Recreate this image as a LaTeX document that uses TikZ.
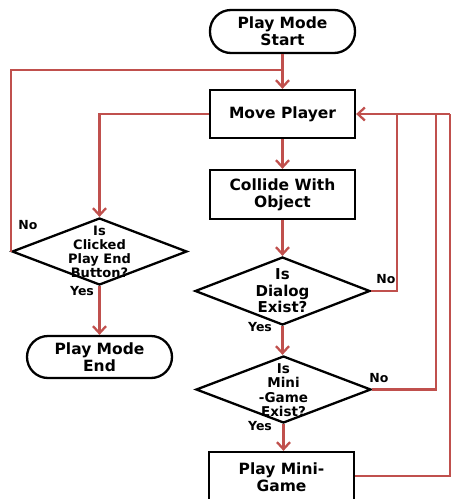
\documentclass[tikz,border=0pt]{standalone}
\usepackage{fontspec}
\setmainfont{DejaVu Sans}
\usetikzlibrary{arrows.meta,shapes.geometric}
\definecolor{flowred}{RGB}{192,80,77}
\tikzset{
  x=1pt,y=1pt,
  procbox/.style={draw=black,line width=2.3pt,fill=white,rectangle,minimum width=145pt,inner sep=0pt,align=center,font=\bfseries\fontsize{15.5}{17}\selectfont},
  termbox/.style={procbox,rounded corners=21pt},
  decbox/.style={draw=black,line width=2.3pt,fill=white,diamond,minimum width=175pt,minimum height=67pt,inner sep=0pt,shape aspect=2.6},
  dectext/.style={align=center,inner sep=0pt},
  flow/.style={draw=flowred,line width=2.3pt,-{Straight Barb[length=7pt,width=13pt,line width=2.3pt]}},
  flowline/.style={draw=flowred,line width=2.3pt},
  yn/.style={font=\bfseries\fontsize{12.5}{13}\selectfont,inner sep=0pt}
}
\begin{document}
\begin{tikzpicture}
\useasboundingbox (0,0) rectangle (452,-499);
% nodes
\node[termbox,minimum height=43pt] (start) at (282.5,-31.5) {Play Mode\\Start};
\node[procbox,minimum height=48pt] (move) at (282.5,-114) {Move Player};
\node[procbox,minimum height=49pt] (collide) at (282.5,-194.5) {Collide With\\Object};
\node[decbox,minimum height=68pt] (dialog) at (282.5,-291) {};
\node[dectext,font=\bfseries\fontsize{15}{16.5}\selectfont] (dialogt) at (dialog.center) {Is\\Dialog\\Exist?};
\node[decbox] (mini) at (283.5,-389.5) {};
\node[dectext,font=\bfseries\fontsize{13.5}{14.5}\selectfont] (minit) at ([yshift=-0.5pt]mini.center) {Is\\Mini\\-Game\\Exist?};
\node[procbox,minimum height=50pt] (playmini) at (281.5,-477) {Play Mini-\\Game};
\node[decbox] (click) at (99.5,-251.5) {};
\node[dectext,font=\bfseries\fontsize{13}{14}\selectfont] (clickt) at (click.center) {Is\\Clicked\\Play End\\Button?};
\node[termbox,minimum height=42pt] (endn) at (99.5,-357) {Play Mode\\End};
% coordinates
\coordinate (j0) at (282.5,-70);
\coordinate (r1) at (397,-114);
\coordinate (r2) at (436,-114);
\coordinate (r3) at (450,-114);
% connectors
\draw[flowline] (start.south) -- (j0);
\draw[flow] (j0) -- (move.north);
\draw[flowline] (click.west) -- (click.west |- j0) -- (j0);
\draw[flow] (move.west) -| (click.north);
\draw[flow] (move.south) -- (collide.north);
\draw[flow] (collide.south) -- (dialog.north);
\draw[flow] (dialog.south) -- (mini.north -| dialog.south);
\draw[flow] (mini.south) -- (playmini.north -| mini.south);
\draw[flow] (click.south) -- (endn.north);
\draw[flowline] (dialog.east) -| (r1);
\draw[flowline] (mini.east) -| (r2);
\draw[flowline] (playmini.east |- 0,-476) -| (r3);
\draw[flow] (r3) -- (move.east);
% labels
\node[yn] (no1) at (28,-225) {No};
\node[yn] (yes1) at (82,-291) {Yes};
\node[yn] (no2) at (386,-279) {No};
\node[yn] (yes2) at (260,-327) {Yes};
\node[yn] (no3) at (379,-378) {No};
\node[yn] (yes3) at (260,-426) {Yes};
\end{tikzpicture}
\end{document}
